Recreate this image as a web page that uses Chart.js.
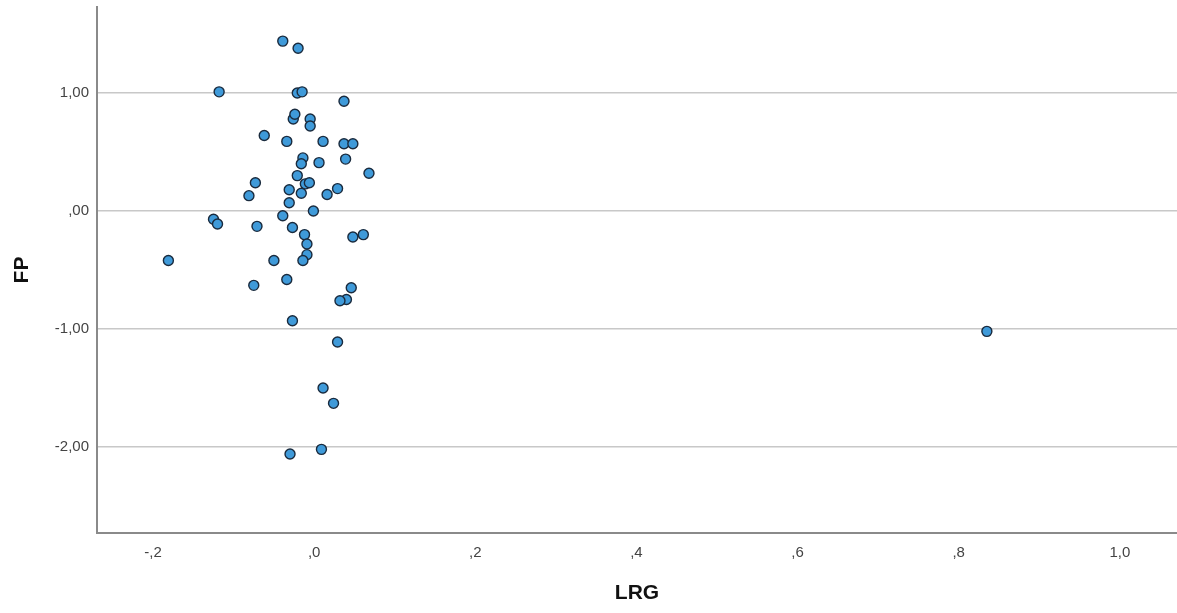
<!DOCTYPE html>
<html>
<head>
<meta charset="utf-8">
<script src="https://cdn.jsdelivr.net/npm/chart.js@4/dist/chart.umd.min.js"></script>
<style>
	html, body { margin: 0; padding: 0; background: #fff; overflow: hidden; }
	canvas { display: block; }
</style>
</head>
<body>
<canvas id="scatter" width="1177" height="613"></canvas>
<script>
// LRG vs FP values
const lrg = [-0.039, -0.020, -0.118, -0.021, -0.015, 0.037, -0.026, -0.024, -0.005, -0.005,
	-0.062, -0.034, 0.011, 0.037, 0.048, -0.014, -0.016, 0.006, 0.039, 0.068,
	-0.021, -0.073, -0.011, -0.006, -0.031, 0.029, -0.081, -0.016, 0.016, -0.031,
	-0.001, -0.039, -0.125, -0.120, -0.071, -0.027, -0.012, 0.048, 0.061, -0.009,
	-0.009, -0.181, -0.050, -0.014, -0.034, -0.075, 0.046, 0.040, 0.032, -0.027,
	0.029, 0.011, 0.024, 0.009, -0.030, 0.835];
const fp = [1.44, 1.38, 1.01, 1.00, 1.01, 0.93, 0.78, 0.82, 0.78, 0.72,
	0.64, 0.59, 0.59, 0.57, 0.57, 0.45, 0.40, 0.41, 0.44, 0.32,
	0.30, 0.24, 0.23, 0.24, 0.18, 0.19, 0.13, 0.15, 0.14, 0.07,
	0.00, -0.04, -0.07, -0.11, -0.13, -0.14, -0.20, -0.22, -0.20, -0.28,
	-0.37, -0.42, -0.42, -0.42, -0.58, -0.63, -0.65, -0.75, -0.76, -0.93,
	-1.11, -1.50, -1.63, -2.02, -2.06, -1.02];
const xTicks = [-0.2, 0, 0.2, 0.4, 0.6, 0.8, 1.0];
const yTicks = [-2, -1, 0, 1];

function fmt(v, dec) {
	let s = Math.abs(v).toFixed(dec).replace(".", ",");
	if (s.charAt(0) === "0") s = s.slice(1);
	return (v < 0 ? "-" : "") + s;
}

const points = lrg.map((x, i) => ({ x: x, y: fp[i] }));

const ctx = document.getElementById("scatter").getContext("2d");
new Chart(ctx, {
	type: "scatter",
	data: {
		datasets: [{
			data: points,
			backgroundColor: "#3f9ad9",
			borderColor: "#1a2b3e",
			borderWidth: 1.4,
			pointRadius: 5,
			pointHoverRadius: 5
		}]
	},
	options: {
		responsive: false,
		animation: false,
		layout: { autoPadding: false, padding: { top: 7, right: 0, left: 0, bottom: 0 } },
		plugins: { legend: { display: false }, tooltip: { enabled: false } },
		scales: {
			x: {
				type: "linear",
				min: -0.2696,
				max: 1.071,
				afterBuildTicks: s => { s.ticks = xTicks.map(v => ({ value: v })); },
				afterFit: s => { s.height = 80; s.paddingLeft = 0; s.paddingRight = 0; },
				grid: { display: false, drawTicks: false },
				border: { color: "#8a8a8a", width: 2 },
				ticks: {
					padding: 11,
					color: "#444",
					font: { family: "Liberation Sans", size: 15 },
					callback: v => fmt(v, 1)
				},
				title: {
					display: true,
					text: "LRG",
					color: "#111",
					font: { family: "Liberation Sans", size: 21, weight: "bold" },
					padding: { top: 0, bottom: 7.5 }
				}
			},
			y: {
				type: "linear",
				min: -2.729,
				max: 1.729,
				afterBuildTicks: s => { s.ticks = yTicks.map(v => ({ value: v })); },
				afterFit: s => { s.width = 97; s.paddingTop = 0; s.paddingBottom = 0; },
				grid: { color: "#c8c8c8", lineWidth: 1.5, drawTicks: false },
				border: { color: "#8a8a8a", width: 2 },
				ticks: {
					padding: 8,
					color: "#444",
					font: { family: "Liberation Sans", size: 15 },
					callback: v => fmt(v, 2)
				},
				title: {
					display: true,
					text: "FP",
					color: "#111",
					font: { family: "Liberation Sans", size: 21, weight: "bold" },
					padding: { top: 9.5, bottom: 0 }
				}
			}
		}
	}
});
</script>
</body>
</html>
